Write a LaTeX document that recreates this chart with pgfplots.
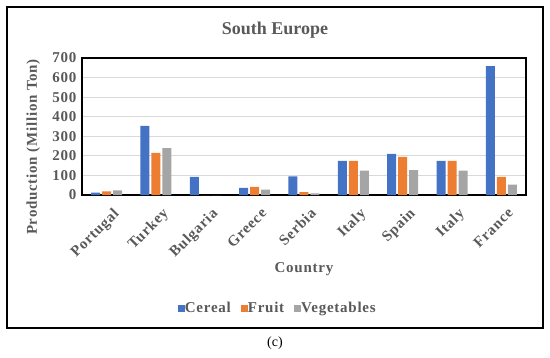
\documentclass[border=0pt]{standalone}
\usepackage{fontspec}
\setmainfont{Liberation Serif}
\newfontfamily\spaced{Liberation Serif}[LetterSpace=5]
\usepackage{pgfplots}
\pgfplotsset{compat=1.18}
\definecolor{cereal}{HTML}{4472C4}
\definecolor{fruit}{HTML}{ED7D31}
\definecolor{veg}{HTML}{A5A5A5}
\definecolor{txt}{HTML}{595959}
\definecolor{gridc}{HTML}{D9D9D9}
\begin{document}
\begin{tikzpicture}[x=1pt,y=1pt]
\path[use as bounding box] (0,0) rectangle (550,357);
\draw[line width=2pt] (7,29) rectangle (543,350);
\node[font=\fontsize{14}{16}\selectfont] at (275,14) {(c)};
\node[font=\fontsize{18}{20}\selectfont\bfseries, text=txt] at (275,327) {South Europe};
\begin{axis}[
  at={(82pt,162pt)}, anchor=south west,
  width=444pt, height=137pt, scale only axis,
  ybar, bar width=9pt,
  ymin=0, ymax=700, ytick={0,100,...,700},
  xmin=-0.5, xmax=8.5,
  xtick={0,...,8},
  xticklabels={Portugal,Turkey,Bulgaria,Greece,Serbia,Italy,Spain,Italy,France},
  x tick label style={rotate=45, anchor=north east, font=\fontsize{15}{17}\spaced\bfseries, text=txt, xshift=-1pt, yshift=-9pt},
  y tick label style={font=\fontsize{15}{17}\spaced\bfseries, text=txt, xshift=-2pt},
  /pgf/number format/assume math mode=true,
  major tick length=0pt,
  ymajorgrids, grid style={gridc, line width=1pt},
  axis line style={black, line width=1.2pt},
  xlabel={Country},
  xlabel style={at={(axis description cs:0.5,-0.54)}, anchor=center, font=\fontsize{15}{17}\spaced\bfseries, text=txt},
  ylabel={Production (Million Ton)},
  ylabel style={at={(axis description cs:-0.11,0.35)}, anchor=center, font=\fontsize{15}{17}\spaced\bfseries, text=txt},
  legend style={at={(0.441,-0.825)}, anchor=center, draw=none, legend columns=-1, font=\fontsize{15}{17}\spaced\bfseries, text=txt, /tikz/every even column/.append style={column sep=8pt}, /tikz/every odd column/.append style={column sep=-2pt}},
  legend image code/.code={\fill[#1] (0pt,-3.5pt) rectangle (7pt,3.5pt);},
]
\addplot[fill=cereal, draw=none] coordinates {(0,12) (1,353) (2,92) (3,36) (4,95) (5,175) (6,210) (7,175) (8,658)};
\addplot[fill=fruit, draw=none] coordinates {(0,19) (1,215) (2,0) (3,41) (4,15) (5,175) (6,195) (7,175) (8,92)};
\addplot[fill=veg, draw=none] coordinates {(0,24) (1,240) (2,0) (3,27) (4,8) (5,124) (6,127) (7,124) (8,53)};
\legend{Cereal,Fruit,Vegetables}
\end{axis}
\end{tikzpicture}
\end{document}
